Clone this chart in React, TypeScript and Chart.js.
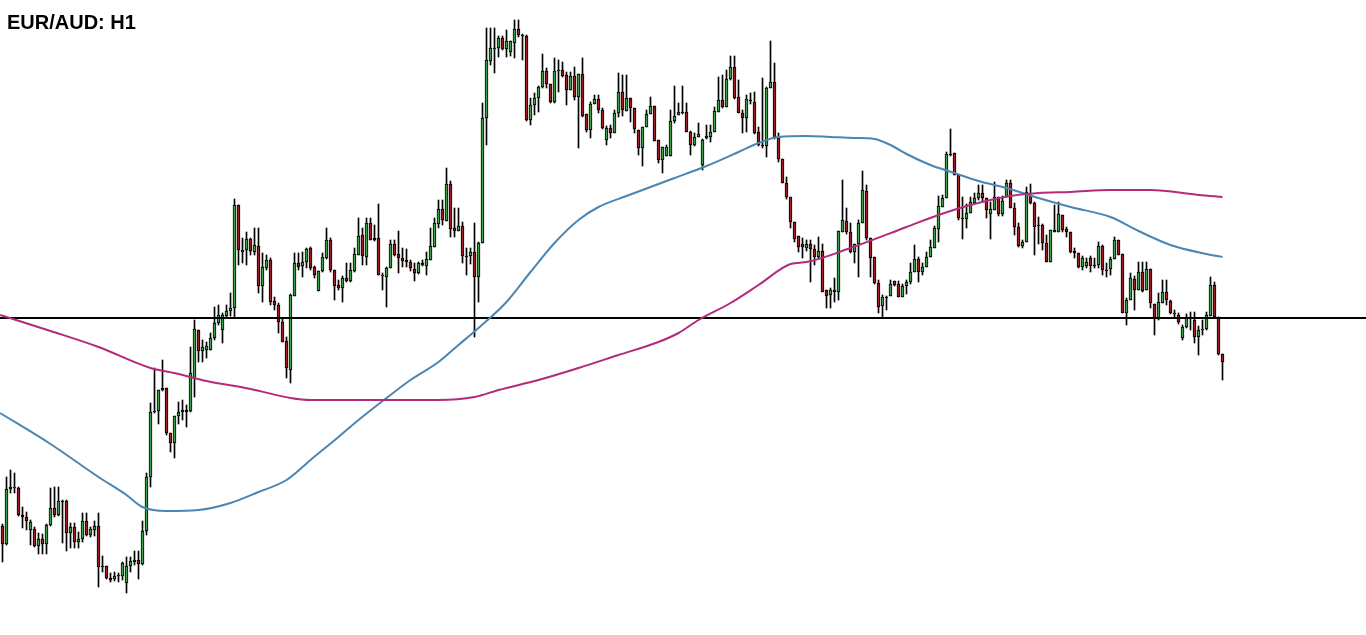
import React, { useEffect, useRef } from 'react';
import { Chart, registerables } from 'chart.js';

Chart.register(...registerables);

// EUR/AUD H1 — prices in points above BASE (price = BASE + pts * PT)
const BASE = 1.5;
const PT = 0.0001;

const openPts = [
474,456,511,512,512,485,483,470,471,454,
461,456,475,492,485,499,499,467,473,458,
461,479,465,470,474,433,434,422,421,424,
424,417,434,438,440,436,469,523,588,589,
610,612,567,557,584,588,590,589,621,670,
649,650,650,662,677,670,684,689,692,795,
748,750,761,748,754,714,732,740,699,695,
678,659,630,704,737,734,738,752,733,709,
729,742,760,730,715,712,722,719,729,745,
765,743,777,762,762,724,723,732,756,746,
742,740,738,731,727,737,734,740,753,776,
791,779,816,772,769,774,744,744,748,723,
757,882,939,951,952,962,951,948,957,971,
965,964,880,895,902,913,929,916,898,929,
930,925,910,924,903,926,886,870,896,901,
890,860,872,867,887,908,889,902,892,870,
852,873,886,894,860,840,844,844,879,885,
888,888,868,855,863,835,862,863,868,888,
900,893,921,933,903,887,882,900,898,868,
855,854,912,918,862,841,817,803,778,764,
756,752,756,751,743,749,710,705,708,708,
768,779,768,748,756,777,809,762,743,717,
694,703,704,719,716,703,714,718,728,741,
728,733,743,752,771,793,802,846,847,825,
782,781,787,797,802,807,802,786,790,803,
786,803,817,792,773,754,758,804,797,774,
775,757,738,768,768,785,771,768,749,747,
733,734,742,735,735,754,730,731,741,760,
746,687,700,721,710,728,710,731,696,681,
697,708,699,687,685,662,673,683,680,663,
670,671,684,715,683,646,
];

const highPts = [
476,523,530,527,513,493,488,480,473,467,
466,476,512,513,513,500,500,477,477,468,
487,487,473,479,487,444,434,427,428,427,
438,443,443,449,449,479,527,597,632,610,
640,612,567,584,598,600,595,653,680,670,
660,658,667,693,695,687,695,707,801,795,
762,768,762,772,772,747,745,742,703,697,
682,663,706,747,747,748,752,753,734,729,
747,772,762,730,720,724,737,737,752,782,
772,782,782,775,796,727,733,760,760,769,
752,751,740,737,738,740,748,772,782,800,
800,832,819,792,792,778,752,752,777,758,
897,972,972,972,964,964,970,959,980,980,
966,965,902,907,914,946,932,916,942,940,
938,928,928,933,926,942,886,898,905,905,
892,874,875,890,927,925,925,902,892,870,
873,890,903,894,860,853,855,890,914,897,
914,897,869,867,877,861,875,875,893,923,
925,930,944,944,920,890,905,907,908,873,
922,913,959,937,867,841,823,803,778,764,
762,760,760,755,763,756,710,712,722,769,
820,792,777,756,780,829,815,762,743,720,
705,704,720,719,719,716,720,737,755,743,
737,748,760,774,804,805,848,871,847,825,
803,796,803,807,815,815,802,798,818,803,
804,820,820,797,777,760,813,816,798,783,
776,765,770,795,798,785,773,768,752,747,
744,742,744,742,758,755,737,743,763,760,
746,702,727,724,738,738,738,731,696,707,
720,720,700,690,687,675,686,688,688,674,
680,688,723,718,683,646,
];

const lowPts = [
438,455,507,507,484,472,470,455,453,446,
446,446,474,483,484,457,449,452,452,452,
458,464,463,464,413,428,421,418,419,418,
420,407,428,435,421,435,465,513,587,576,
609,565,548,542,576,580,573,588,603,638,
638,642,650,660,675,657,682,684,683,735,
737,735,745,745,707,698,730,695,690,667,
658,622,617,704,730,723,732,730,722,709,
728,741,728,700,710,698,718,718,728,745,
735,735,760,759,725,710,693,732,744,727,
733,733,729,719,726,734,725,740,753,772,
775,779,763,763,769,737,725,736,663,698,
757,855,935,927,943,950,943,944,942,963,
940,879,875,885,888,912,912,897,897,908,
923,895,910,900,852,883,868,862,896,887,
871,855,862,867,883,884,889,878,867,845,
834,873,886,859,837,827,844,844,877,885,
886,868,845,854,863,830,861,858,868,888,
892,893,920,901,887,867,868,896,866,854,
852,843,912,861,838,817,801,772,758,748,
742,749,718,735,742,708,692,692,698,700,
768,766,747,737,723,777,760,723,716,687,
682,690,704,714,703,703,706,716,728,718,
725,733,743,752,758,793,802,844,825,780,
761,772,787,797,800,798,782,761,790,784,
784,803,792,765,753,752,758,796,745,756,
750,738,738,768,768,768,763,747,742,732,
730,732,728,732,732,725,723,725,741,745,
687,675,700,690,710,708,710,692,665,680,
697,695,686,682,676,660,672,670,657,645,
665,670,684,682,645,620,
];

const closePts = [
456,511,513,513,485,483,479,478,454,461,
456,475,492,485,499,498,467,473,458,461,
479,465,471,474,433,434,422,420,424,425,
437,434,439,440,436,469,523,588,589,610,
612,567,557,584,588,590,588,627,671,649,
653,654,662,677,685,685,689,692,795,750,
750,761,749,755,714,733,740,698,695,678,
658,632,705,737,733,738,751,732,725,729,
743,760,730,714,712,722,719,730,746,764,
744,777,760,760,725,725,732,756,745,742,
739,738,732,727,737,735,741,754,777,791,
780,816,771,769,774,744,743,748,723,757,
882,940,952,952,962,951,959,959,971,965,
964,880,895,902,913,929,916,898,929,930,
924,910,924,903,926,884,870,896,901,890,
872,872,867,887,908,890,902,892,871,852,
873,886,894,859,840,853,853,879,884,888,
887,868,855,863,866,860,864,868,889,900,
893,921,933,902,887,882,901,899,867,855,
854,912,918,862,841,817,803,778,761,753,
753,756,751,743,749,708,704,710,710,769,
780,768,748,756,777,810,762,742,717,693,
703,702,716,715,703,714,718,728,741,728,
733,743,753,772,794,802,846,845,825,782,
781,787,798,802,807,802,790,791,803,786,
799,817,792,773,754,758,808,797,773,775,
757,738,770,770,786,770,768,748,747,733,
742,738,734,734,754,730,729,741,760,745,
687,700,722,710,728,709,731,697,681,698,
708,700,687,686,678,673,683,682,663,670,
671,685,715,683,646,638,
];

// Moving averages, sampled at bar indices
const maFastIdx = [-0.6,12,24,31,35,41,49,57,64,71,77,84,89,96,102,109,114,119,126,132,138,144,149,156,162,168,176,184,189,194,201,207,213,218,222,226,232,238,244,251,259,267,277,284,292,301,305];
const maFastPts = [587,556,523,505,493,489,490,497,508,520,540,563,580,602,620,638,655,672,698,728,757,780,793,804,813,822,834,848,857,863,864,863,862,861,855,846,835,827,819,812,802,793,783,769,755,746,743];

const maSlowIdx = [-0.6,12,24,37,44,51,62,72,77,87,99,109,118,124,134,144,154,164,169,174,182,189,197,201,212,226,234,242,252,259,267,277,287,299,305];
const maSlowPts = [685,669,653,632,626,619,611,602,600,600,600,600,603,610,620,632,645,658,667,680,697,715,736,738,752,773,785,795,804,807,808,810,810,805,803];

const levelPts = 682;

const GREEN = '#3f9f4a';
const RED = '#9a1c24';
const BLUE = '#4a86b4';
const MAGENTA = '#b42a7c';

const toPrice = (p: number) => +(BASE + p * PT).toFixed(5);

export default function App() {
  const ref = useRef<HTMLCanvasElement>(null);

  useEffect(() => {
    if (!ref.current) return;
    const idx = openPts.map((_, i) => i);
    const wickData = idx.map((i) => ({ x: i, y: [toPrice(lowPts[i]), toPrice(highPts[i])] }));
    const bodyData = idx.map((i) => ({ x: i, y: [toPrice(openPts[i]), toPrice(closePts[i])] }));
    const bodyColors = idx.map((i) => (closePts[i] >= openPts[i] ? GREEN : RED));
    const fast = maFastIdx.map((x, k) => ({ x, y: toPrice(maFastPts[k]) }));
    const slow = maSlowIdx.map((x, k) => ({ x, y: toPrice(maSlowPts[k]) }));
    const level = [
      { x: -5, y: toPrice(levelPts) },
      { x: 350, y: toPrice(levelPts) },
    ];

    const chart = new Chart(ref.current, {
      type: 'bar',
      data: {
        datasets: [
          {
            type: 'line',
            label: 'MA slow',
            data: slow,
            borderColor: MAGENTA,
            borderWidth: 2,
            pointRadius: 0,
            cubicInterpolationMode: 'monotone',
            order: 0,
          } as any,
          {
            type: 'line',
            label: 'MA fast',
            data: fast,
            borderColor: BLUE,
            borderWidth: 2,
            pointRadius: 0,
            cubicInterpolationMode: 'monotone',
            order: 0,
          } as any,
          {
            type: 'line',
            label: 'Level',
            data: level,
            borderColor: '#000',
            borderWidth: 2,
            pointRadius: 0,
            order: 0,
          } as any,
          {
            type: 'bar',
            label: 'Bodies',
            data: bodyData,
            backgroundColor: bodyColors,
            borderColor: '#000',
            borderWidth: 1,
            borderSkipped: false,
            barThickness: 3,
            grouped: false,
            order: 1,
          } as any,
          {
            type: 'bar',
            label: 'Wicks',
            data: wickData,
            backgroundColor: '#000',
            borderWidth: 0,
            barThickness: 1,
            grouped: false,
            order: 2,
          } as any,
        ],
      },
      options: {
        responsive: false,
        animation: false,
        devicePixelRatio: 1,
        layout: { padding: 0 },
        plugins: {
          legend: { display: false },
          tooltip: { enabled: false },
          title: { display: false },
        },
        scales: {
          x: { type: 'linear', min: -0.625, max: 340.875, display: false, offset: false },
          y: { type: 'linear', min: toPrice(365), max: toPrice(1000), display: false },
        },
      } as any,
    });
    return () => chart.destroy();
  }, []);

  return (
    <div
      style={{
        position: 'fixed',
        left: 0,
        top: 0,
        width: 1366,
        height: 635,
        background: '#fff',
        overflow: 'hidden',
      }}
    >
      <canvas ref={ref} width={1366} height={635} style={{ display: 'block', width: 1366, height: 635 }} />
      <div
        style={{
          position: 'absolute',
          left: 7,
          top: 12,
          font: 'bold 20px "Liberation Sans", Arial, sans-serif',
          lineHeight: '20px',
          color: '#000',
          whiteSpace: 'nowrap',
        }}
      >
        EUR/AUD: H1
      </div>
    </div>
  );
}
